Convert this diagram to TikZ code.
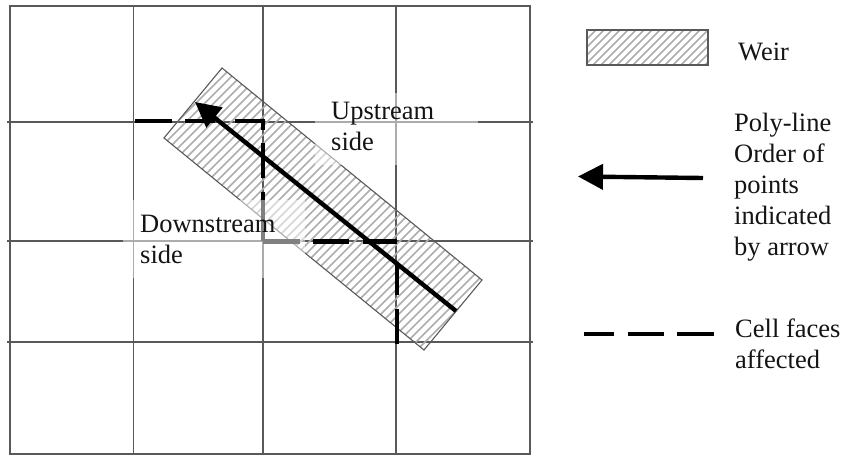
\documentclass[tikz,border=0pt]{standalone}
\usepackage{fontspec}
\setmainfont{Liberation Serif}
\usetikzlibrary{arrows.meta}
\definecolor{gridc}{gray}{0.35}
\definecolor{hatchc}{gray}{0.68}
\definecolor{edgec}{gray}{0.35}
\definecolor{textc}{gray}{0.08}
\tikzset{
  gridline/.style={draw=gridc,line width=1.2pt},
  weiredge/.style={draw=edgec,line width=1.1pt},
  hatchline/.style={draw=hatchc,line width=1.5pt},
  polyline/.style={draw=black,line width=4.4pt,-{Triangle[length=25pt,width=25pt]}},
  faceline/.style={draw=black,line width=4.4pt},
  wash/.style={fill=white,fill opacity=0.5,draw=none},
  lbl/.style={anchor=base west,inner sep=0pt,align=left,text=textc,
    font=\fontsize{26.5}{31}\selectfont}
}
\begin{document}
\begin{tikzpicture}[x=1pt,y=-1pt]
\useasboundingbox (0,0) rectangle (852,455);
% grid
\draw[gridline] (10,6) rectangle (530,454);
\foreach \gx in {133.5,263,396} \draw[gridline] (\gx,6) -- (\gx,454);
\foreach \gy in {122,241,342} \draw[gridline] (7,\gy) -- (533,\gy);
% weir
\coordinate (wt) at (222,68);
\coordinate (wl) at (164,138);
\coordinate (wb) at (424,350);
\coordinate (wr) at (482,280);
\begin{scope}
  \clip (wt) -- (wl) -- (wb) -- (wr) -- cycle;
  \foreach \k in {290,299,...,780} \draw[hatchline] (\k,0) -- (0,\k);
\end{scope}
\draw[weiredge] (wt) -- (wl) -- (wb) -- (wr) -- cycle;
% poly-line
\coordinate (ps) at (456,311);
\coordinate (pe) at (195,102);
\draw[polyline] (ps) -- (pe);
% cell faces
\draw[faceline] (135,121) -- (172,121) (185,121) -- (215,121) (235,121) -- (263,121)
  (263,119) -- (263,130) (263,143) -- (263,178) (263,192) -- (263,241)
  (263,241.5) -- (300,241.5) (313,241.5) -- (349,241.5) (363,241.5) -- (397,241.5)
  (397,262) -- (397,295) (397,309) -- (397,344);
% washed text backgrounds
\path[wash] (123,200) rectangle (305,278);
\path[wash] (315,93) rectangle (478,165);
% labels
\node[lbl] (up) at (331,150) {Upstream\\side};
\node[lbl] (down) at (140,263) {Downstream\\side};
% legend
\begin{scope}
  \clip (587,30) rectangle (708,65);
  \foreach \k in {610,618,...,780} \draw[hatchline] (\k,0) -- (0,\k);
\end{scope}
\draw[weiredge] (587,30) rectangle (708,65);
\node[lbl] (lw) at (738,60) {Weir};
\coordinate (as) at (703,178);
\coordinate (ae) at (578,176.5);
\draw[polyline] (as) -- (ae);
\node[lbl] (lp) at (734,255) {Poly-line\\Order of\\points\\indicated\\by arrow};
\draw[faceline] (584,334) -- (614,334) (628,334) -- (664,334) (677,334) -- (714,334);
\node[lbl] (lc) at (735,368) {Cell faces\\affected};
\end{tikzpicture}
\end{document}
